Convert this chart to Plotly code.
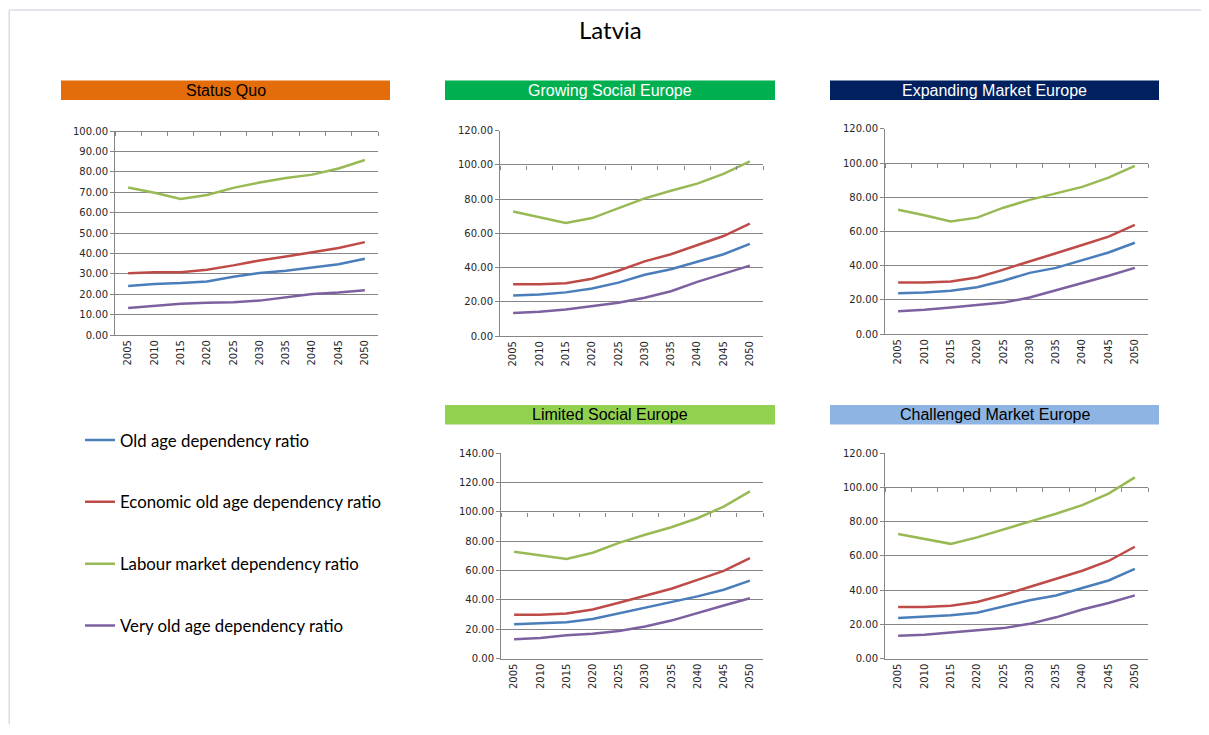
import plotly.graph_objects as go

# page offset of the plot inside the browser page (body margin etc.)
OX, OY = 8, 12.5
W, H = 1201, 722

years = ["2005", "2010", "2015", "2020", "2025", "2030", "2035", "2040", "2045", "2050"]

series_names = [
    "Old age dependency ratio",
    "Economic old age dependency ratio",
    "Labour market dependency ratio",
    "Very old age dependency ratio",
]
series_colors = ["#4A7EBB", "#BE4B48", "#98B954", "#7D60A0"]

# Status Quo
sq_old = [24.1, 25.0, 25.5, 26.3, 28.6, 30.5, 31.5, 33.1, 34.7, 37.4]
sq_econ = [30.3, 30.8, 30.8, 32.1, 34.2, 36.6, 38.5, 40.6, 42.7, 45.6]
sq_labour = [72.4, 69.8, 66.8, 68.7, 72.2, 74.8, 77.0, 78.7, 81.7, 85.9]
sq_very = [13.3, 14.3, 15.4, 15.9, 16.1, 16.9, 18.5, 20.1, 20.9, 22.0]

# Growing Social Europe
gs_old = [23.7, 24.3, 25.5, 27.8, 31.2, 35.8, 39.0, 43.4, 47.8, 53.8]
gs_econ = [30.2, 30.2, 30.8, 33.5, 38.1, 43.6, 47.8, 53.0, 58.4, 65.6]
gs_labour = [72.7, 69.5, 66.0, 68.9, 74.6, 80.4, 84.8, 89.0, 94.7, 102.0]
gs_very = [13.4, 14.2, 15.5, 17.4, 19.5, 22.4, 26.2, 31.6, 36.2, 41.1]

# Expanding Market Europe
em_old = [23.9, 24.3, 25.3, 27.4, 31.2, 35.8, 38.7, 43.1, 47.7, 53.4]
em_econ = [30.2, 30.2, 30.8, 33.1, 37.7, 42.7, 47.3, 52.1, 57.0, 63.9]
em_labour = [72.7, 69.5, 65.8, 68.1, 73.9, 78.5, 82.3, 86.1, 91.5, 98.4]
em_very = [13.4, 14.2, 15.5, 16.8, 18.4, 21.4, 25.6, 30.2, 34.1, 38.7]

# Limited Social Europe
ls_old = [23.4, 24.1, 24.8, 27.0, 30.8, 34.8, 38.4, 42.4, 46.9, 53.1]
ls_econ = [29.9, 29.9, 30.8, 33.5, 38.0, 42.9, 47.6, 53.6, 59.8, 68.5]
ls_labour = [72.8, 70.6, 67.9, 72.1, 78.8, 84.4, 89.5, 95.6, 103.6, 113.9]
ls_very = [13.2, 14.1, 15.9, 17.0, 18.8, 21.9, 25.9, 31.3, 36.2, 41.1]

# Challenged Market Europe
cm_old = [23.7, 24.3, 25.3, 26.8, 30.6, 34.1, 36.9, 41.1, 45.6, 52.4]
cm_econ = [30.2, 30.2, 30.8, 33.1, 37.1, 41.7, 46.3, 51.3, 57.0, 65.3]
cm_labour = [72.7, 69.7, 67.0, 70.8, 75.6, 80.0, 84.6, 89.6, 96.3, 105.8]
cm_very = [13.4, 14.0, 15.3, 16.7, 17.8, 20.3, 24.1, 28.7, 32.5, 36.9]

panel_titles = ["Status Quo", "Growing Social Europe", "Expanding Market Europe",
                "Limited Social Europe", "Challenged Market Europe"]
panel_header_colors = ["#E46C0A", "#00B050", "#002060", "#92D050", "#8DB4E2"]
panel_title_colors = ["#000000", "#FFFFFF", "#FFFFFF", "#000000", "#000000"]
panel_ymax = [100, 120, 120, 140, 120]
panel_dtick = [10, 20, 20, 20, 20]
panel_data = [
    [sq_old, sq_econ, sq_labour, sq_very],
    [gs_old, gs_econ, gs_labour, gs_very],
    [em_old, em_econ, em_labour, em_very],
    [ls_old, ls_econ, ls_labour, ls_very],
    [cm_old, cm_econ, cm_labour, cm_very],
]

# layout in reference pixels: plot area (x0, x1, ytop, ybottom), header (x0, x1, ytop, ybottom)
plot_px = [
    (115, 378, 131.7, 339),
    (500, 763, 131, 340),
    (885, 1148, 129.3, 338),
    (501, 763, 459, 668),
    (885, 1148, 459, 668),
]
header_px = [
    (61, 390, 80, 100),
    (445, 775, 80, 100),
    (830, 1159, 80, 100),
    (445, 775, 410, 430),
    (830, 1159, 410, 430),
]

def fx(px):
    return (px - OX) / W

def fy(py):
    return 1 - (py - OY) / H

GRID = "#868686"
TICKFONT = dict(family="DejaVu Sans", size=10, color="#262626")

fig = go.Figure()
layout = {}
shapes = []
annotations = []

for i in range(5):
    n = i + 1
    xa = "x" if n == 1 else f"x{n}"
    ya = "y" if n == 1 else f"y{n}"
    xkey = "xaxis" if n == 1 else f"xaxis{n}"
    ykey = "yaxis" if n == 1 else f"yaxis{n}"
    tick_n = n + 5
    tkey = f"xaxis{tick_n}"
    x0, x1, yt, yb = plot_px[i]
    dom_x = [fx(x0), fx(x1)]
    dom_y = [fy(yb), fy(yt)]
    ymax = panel_ymax[i]

    for s in range(4):
        fig.add_trace(go.Scatter(
            x=years, y=panel_data[i][s], mode="lines",
            name=series_names[s],
            line=dict(color=series_colors[s], width=2.5),
            xaxis=xa, yaxis=ya,
            showlegend=(i == 0), legendgroup=series_names[s],
        ))
    # invisible trace to anchor the tick-mark axis
    fig.add_trace(go.Scatter(x=[None], y=[None], xaxis=f"x{tick_n}", yaxis=ya,
                             showlegend=False, hoverinfo="skip"))

    layout[xkey] = dict(
        domain=dom_x, anchor=ya, type="category", range=[-0.5, 9.5],
        showgrid=False, showline=True, linecolor=GRID, linewidth=1,
        ticks="", tickangle=-90, tickfont=TICKFONT, fixedrange=True,
    )
    layout[ykey] = dict(
        domain=dom_y, anchor=xa, range=[0, ymax], tick0=0, dtick=panel_dtick[i],
        tickformat=".2f", showgrid=True, gridcolor=GRID, gridwidth=1,
        showline=True, linecolor=GRID, linewidth=1, ticks="outside",
        ticklen=4, tickcolor=GRID, tickfont=TICKFONT, zeroline=False,
        fixedrange=True,
    )
    # category axis crossing at 100 with tick marks between categories
    pos = dom_y[0] + (100 / ymax) * (dom_y[1] - dom_y[0])
    layout[tkey] = dict(
        domain=dom_x, anchor="free", overlaying=xa, position=pos,
        range=[-0.5, 9.5], tickvals=[k - 0.5 for k in range(11)],
        showticklabels=False, ticks="outside", ticklen=4, tickcolor=GRID,
        showline=(ymax == 100), linecolor=GRID, linewidth=1,
        showgrid=False, zeroline=False, fixedrange=True,
    )

    hx0, hx1, hy0, hy1 = header_px[i]
    shapes.append(dict(type="rect", xref="paper", yref="paper",
                       x0=fx(hx0), x1=fx(hx1), y0=fy(hy1), y1=fy(hy0),
                       fillcolor=panel_header_colors[i], line=dict(width=0),
                       layer="below"))
    annotations.append(dict(text=panel_titles[i], xref="paper", yref="paper",
                            x=fx((hx0 + hx1) / 2), y=fy((hy0 + hy1) / 2),
                            xanchor="center", yanchor="middle", showarrow=False,
                            font=dict(family="Liberation Sans", size=16,
                                      color=panel_title_colors[i])))

# outer frame lines (top and left)
shapes.append(dict(type="line", xref="paper", yref="paper",
                   x0=0.001, x1=1, y0=fy(8.5), y1=fy(8.5),
                   line=dict(color="#D9DCE8", width=1.5)))
shapes.append(dict(type="line", xref="paper", yref="paper",
                   x0=0.001, x1=0.001, y0=0, y1=fy(8.5),
                   line=dict(color="#D9DCE8", width=1.5)))

annotations.append(dict(text="Latvia", xref="paper", yref="paper",
                        x=fx(610), y=fy(28), xanchor="center", yanchor="middle",
                        showarrow=False,
                        font=dict(family="Lato", size=24, color="#000000")))

fig.update_layout(
    width=W, height=H,
    margin=dict(l=0, r=0, t=0, b=0),
    paper_bgcolor="white", plot_bgcolor="rgba(0,0,0,0)",
    shapes=shapes, annotations=annotations,
    showlegend=True,
    legend=dict(x=fx(80), y=fy(428), xanchor="left", yanchor="top",
                font=dict(family="Lato", size=16.8, color="#000000"),
                tracegroupgap=37, itemwidth=30, bgcolor="rgba(0,0,0,0)"),
    **layout,
)

fig.write_html("out.html")
